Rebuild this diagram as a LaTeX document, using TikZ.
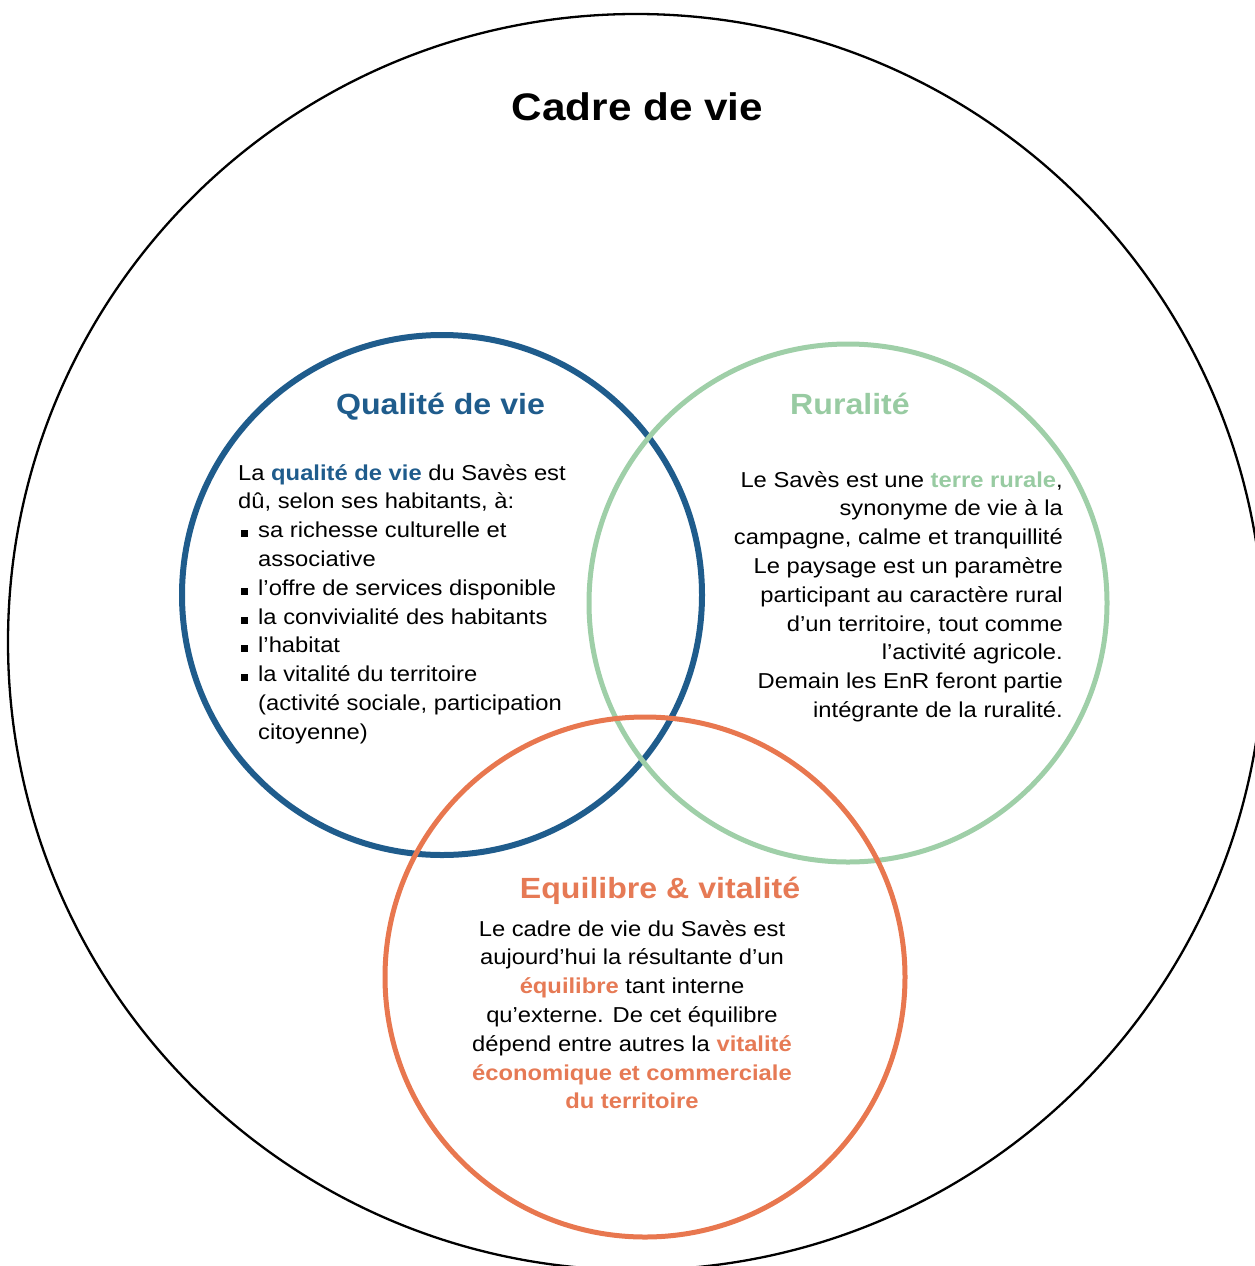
\documentclass[tikz,border=0pt]{standalone}
\usepackage{fontspec}
\setmainfont{Liberation Sans}[FakeStretch=1.1]
\definecolor{qblue}{HTML}{1F5C8C}
\definecolor{rgreen}{HTML}{9FCFA8}
\definecolor{rgreentxt}{HTML}{98CBA2}
\definecolor{eorange}{HTML}{E8774F}
\definecolor{eorangetxt}{HTML}{E67A55}
\begin{document}
\begin{tikzpicture}[x=1pt,y=-1pt,
  body/.style={inner sep=0pt, font=\fontsize{21.6}{28.8}\selectfont},
  bl/.style={body, anchor=base west},
  br/.style={body, anchor=base east},
  bc/.style={body, anchor=base},
  headline/.style={inner sep=0pt, anchor=base, font=\fontsize{29.2}{34}\selectfont\bfseries},
  ring/.style={circle, draw, inner sep=0pt, minimum size=#1},
]
\useasboundingbox (0,0) rectangle (1255,1266);
\begin{scope}
\clip (0,0) rectangle (1255,1266);
\node[ring=1256pt, line width=2.3pt] (frame) at (636,642) {};
\end{scope}
\node[ring=520pt, draw=qblue, line width=6pt] (qc) at (442,595) {};
\node[ring=518pt, draw=rgreen, line width=5pt] (rc) at (848,603) {};
\node[ring=520pt, draw=eorange, line width=5pt] (ec) at (645,977) {};

\newcommand{\sqb}{\makebox[20pt][l]{\hspace{2.5pt}\rule[0.5pt]{7pt}{7pt}}}
\newcommand{\og}[1]{\textcolor{eorangetxt}{\bfseries #1}}
% titles
\node[inner sep=0pt, anchor=base, font=\fontsize{38.4}{44}\selectfont\bfseries] (cadre) at (637.5,120) {Cadre de vie};
\node[headline, text=qblue] (qt) at (440.5,414) {Qualité de vie};
\node[headline, text=rgreentxt] (rt) at (850,414) {Ruralité};
\node[headline, text=eorangetxt] (et) at (660,898) {Equilibre \& vitalité};

% blue block
\node[bl] (q1) at (238,480.0) {La \textcolor{qblue}{\bfseries qualité de vie} du Savès est};
\node[bl] (q2) at (238,508.8) {dû, selon ses habitants, à:};
\node[bl] (q3) at (238,537.6) {\sqb sa richesse culturelle et};
\node[bl] (q4) at (258,566.4) {associative};
\node[bl] (q5) at (238,595.2) {\sqb l’offre de services disponible};
\node[bl] (q6) at (238,624.0) {\sqb la convivialité des habitants};
\node[bl] (q7) at (238,652.8) {\sqb l’habitat};
\node[bl] (q8) at (238,681.6) {\sqb la vitalité du territoire};
\node[bl] (q9) at (258,710.4) {(activité sociale, participation};
\node[bl] (q10) at (258,739.2) {citoyenne)};

% green block
\node[br] (r1) at (1063,487.0) {Le Savès est une \textcolor{rgreentxt}{\bfseries terre rurale},};
\node[br] (r2) at (1063,515.8) {synonyme de vie à la};
\node[br] (r3) at (1063,544.6) {campagne, calme et tranquillité};
\node[br] (r4) at (1063,573.4) {Le paysage est un paramètre};
\node[br] (r5) at (1063,602.2) {participant au caractère rural};
\node[br] (r6) at (1063,631.0) {d’un territoire, tout comme};
\node[br] (r7) at (1063,659.8) {l’activité agricole.};
\node[br] (r8) at (1063,688.6) {Demain les EnR feront partie};
\node[br] (r9) at (1063,717.4) {intégrante de la ruralité.};

% orange block
\node[bc] (e1) at (632,936.0) {Le cadre de vie du Savès est};
\node[bc] (e2) at (632,964.8) {aujourd’hui la résultante d’un};
\node[bc] (e3) at (632,993.6) {\og{équilibre} tant interne};
\node[bc] (e4) at (632,1022.4) {qu’externe. De cet équilibre};
\node[bc] (e5) at (632,1051.2) {dépend entre autres la \og{vitalité}};
\node[bc] (e6) at (632,1080.0) {\og{économique et commerciale}};
\node[bc] (e7) at (632,1108.8) {\og{du territoire}};
\end{tikzpicture}
\end{document}
